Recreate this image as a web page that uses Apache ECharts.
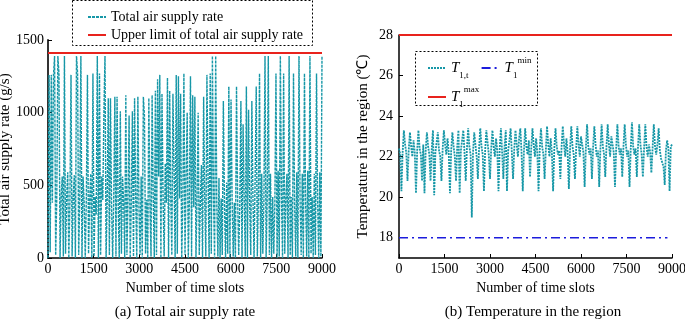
<!DOCTYPE html>
<html>
<head>
<meta charset="utf-8">
<script src="https://cdn.jsdelivr.net/npm/echarts@6/dist/echarts.min.js"></script>
<style>
html, body { margin: 0; padding: 0; background: #fff; }
#main { width: 685px; height: 320px; }
</style>
</head>
<body>
<div id="main"></div>
<script>
// time slot step between samples
var SUPPLY_STEP = 36;
var TEMP_STEP = 40;

// (a) total air supply rate, g/s
var supplyRate = [
    0, 1260, 40, 1260, 380, 1260, 1390, 20, 410, 1390,
    1270, 0, 420, 560, 10, 1390, 30, 410, 590, 0,
    400, 1260, 10, 420, 570, 0, 1390, 1270, 20, 410,
    1390, 0, 560, 380, 0, 420, 1260, 30, 400, 580,
    0, 1270, 10, 420, 300, 1390, 0, 1270, 20, 560,
    400, 1000, 1390, 0, 410, 1100, 20, 1100, 350, 0,
    420, 1110, 10, 1110, 380, 0, 1010, 30, 560, 400,
    0, 1120, 20, 410, 980, 0, 380, 1010, 10, 1100,
    420, 0, 1110, 350, 20, 560, 0, 1110, 980, 30,
    400, 0, 1100, 380, 10, 1120, 420, 0, 1150, 20,
    1230, 560, 1260, 0, 1130, 400, 10, 650, 380, 1240,
    0, 1150, 420, 20, 1130, 600, 0, 1260, 30, 1250,
    410, 1130, 0, 380, 1270, 20, 560, 1000, 0, 400,
    1250, 10, 1120, 350, 1110, 0, 420, 1000, 20, 380,
    640, 0, 1110, 400, 10, 1260, 560, 0, 1270, 30,
    1390, 420, 0, 1390, 380, 10, 550, 0, 410, 20,
    1080, 380, 0, 520, 30, 1180, 0, 1090, 400, 10,
    380, 0, 1180, 420, 20, 360, 1080, 0, 920, 400,
    10, 1180, 0, 1020, 380, 20, 1080, 410, 0, 560,
    1180, 10, 420, 1270, 0, 580, 30, 400, 1390, 0,
    410, 1390, 20, 580, 0, 420, 30, 380, 1270, 0,
    600, 10, 1390, 420, 0, 1270, 30, 410, 580, 0,
    1390, 20, 420, 0, 1270, 380, 10, 590, 0, 1390,
    400, 20, 580, 0, 1270, 410, 10, 600, 0, 1390,
    30, 420, 0, 580, 20, 1270, 400, 0, 590, 10,
    1390
];
var supplyLimit = 1410;

// (b) temperature in region 1, deg C
var temperature = [
    22.4, 22.1, 20.3, 22.2, 23.3, 22.6, 22.2, 20.8, 22.3, 23.2,
    22.5, 22.0, 22.8, 22.2, 20.2, 22.3, 23.3, 22.4, 22.1, 20.8,
    22.6, 20.2, 22.3, 23.2, 22.5, 22.1, 20.8, 22.4, 23.3, 20.1,
    22.2, 22.7, 23.2, 22.3, 22.0, 20.8, 22.4, 23.3, 22.6, 22.1,
    22.9, 22.2, 20.2, 22.3, 23.2, 22.5, 22.0, 20.8, 22.5, 23.3,
    20.2, 22.3, 22.8, 23.3, 22.2, 20.8, 22.4, 23.4, 22.5, 22.1,
    19.0, 22.2, 23.2, 22.6, 22.0, 20.9, 22.4, 23.4, 22.5, 22.1,
    20.3, 22.3, 23.3, 22.7, 22.1, 20.9, 22.4, 23.3, 22.5, 22.0,
    22.9, 22.3, 20.3, 22.4, 23.4, 22.2, 20.9, 22.5, 23.3, 20.3,
    22.3, 22.8, 23.4, 22.2, 20.9, 22.4, 23.3, 22.6, 22.0, 22.9,
    23.4, 22.2, 20.3, 22.3, 23.4, 22.5, 22.1, 22.8, 21.0, 22.4,
    23.4, 22.6, 22.0, 22.9, 22.2, 20.3, 22.4, 23.4, 22.5, 22.1,
    20.9, 22.3, 23.5, 22.6, 22.0, 22.9, 22.2, 20.3, 22.4, 23.4,
    22.5, 22.1, 22.3, 20.9, 22.5, 23.5, 22.6, 22.0, 22.9, 22.2,
    20.4, 22.4, 23.5, 22.5, 22.1, 20.9, 22.4, 23.5, 22.6, 22.0,
    23.0, 22.6, 22.2, 20.5, 22.4, 23.6, 22.5, 22.1, 22.4, 20.9,
    22.5, 23.5, 22.6, 22.0, 22.3, 20.5, 22.4, 23.6, 22.5, 22.1,
    21.0, 22.5, 23.6, 22.6, 22.0, 23.0, 22.6, 22.2, 20.5, 22.4,
    23.6, 22.5, 22.1, 22.4, 21.0, 22.5, 23.6, 22.6, 22.0, 22.3,
    20.5, 22.4, 23.7, 22.5, 22.1, 22.4, 21.0, 22.5, 23.6, 22.6,
    22.1, 21.0, 22.4, 23.6, 22.5, 22.0, 22.6, 22.2, 21.2, 22.4,
    23.6, 22.5, 22.1, 22.6, 23.4, 22.3, 21.9, 21.7, 21.5, 20.6,
    22.3, 22.8, 22.4, 20.3, 22.5, 22.6
];
var tMin = 18;
var tMax = 28;

var xTicks = [0, 1500, 3000, 4500, 6000, 7500, 9000];
var supplyTicks = [0, 500, 1000, 1500];
var tempTicks = [18, 20, 22, 24, 26, 28];

var teal = '#1697a7';
var red = '#e8231d';
var blue = '#1c1cdc';
var font = 'Liberation Serif';

function toPairs(arr, step) {
    return arr.map(function (v, i) { return [i * step, v]; });
}

function plain(v) {
    return String(v);
}

function xAxisOpt(idx) {
    return {
        gridIndex: idx,
        type: 'value',
        min: 0,
        max: 9000,
        name: 'Number of time slots',
        nameLocation: 'middle',
        nameGap: 22,
        nameTextStyle: { fontFamily: font, fontSize: 14, color: '#000' },
        axisLine: { lineStyle: { color: '#000', width: 1.5 } },
        axisTick: { inside: true, length: 4, customValues: xTicks, lineStyle: { color: '#000' } },
        axisLabel: { fontFamily: font, fontSize: 14, color: '#000', margin: 4, customValues: xTicks, formatter: plain },
        splitLine: { show: false }
    };
}

var legendText = { fontFamily: font, fontSize: 14, color: '#000' };
var richT = {
    i: { fontFamily: font, fontStyle: 'italic', fontSize: 15, lineHeight: 24 },
    sb: { fontFamily: font, fontSize: 9, lineHeight: 24, verticalAlign: 'bottom', padding: [8, 0, 0, 0] },
    sp: { fontFamily: font, fontSize: 9, lineHeight: 24, verticalAlign: 'top', padding: [0, 0, 8, 0] }
};
function tLabel(name) {
    if (name === 'T1t') return '{i|T}{sb|1,t}';
    if (name === 'T1min') return '{i|T}{sb|1}{sp|min}';
    return '{i|T}{sb|1}{sp|max}';
}

var myChart = echarts.init(document.getElementById('main'));
var option = {
    animation: false,
    backgroundColor: '#fff',
    title: [{
        text: '(a) Total air supply rate',
        left: 180,
        top: 300,
        textAlign: 'center',
        textStyle: { fontFamily: font, fontSize: 15, fontWeight: 'normal', color: '#000' }
    }, {
        text: '(b) Temperature in the region',
        left: 528,
        top: 300,
        textAlign: 'center',
        textStyle: { fontFamily: font, fontSize: 15, fontWeight: 'normal', color: '#000' }
    }],
    graphic: [{
        type: 'rect',
        shape: { x: 72.5, y: 0.5, width: 240, height: 45 },
        style: { fill: '#fff', stroke: '#000', lineWidth: 1, lineDash: [2, 2] },
        z: 10
    }, {
        type: 'rect',
        shape: { x: 415.5, y: 51.5, width: 122, height: 54 },
        style: { fill: '#fff', stroke: '#000', lineWidth: 1, lineDash: [2, 2] },
        z: 10
    }],
    legend: [{
        data: ['Total air supply rate', 'Upper limit of total air supply rate'],
        orient: 'vertical',
        left: 82,
        top: 5,
        itemGap: 4,
        itemWidth: 18,
        itemHeight: 14,
        z: 20,
        itemStyle: { opacity: 0 },
        textStyle: legendText
    }, {
        data: ['T1t', 'T1min'],
        left: 422,
        top: 51,
        itemGap: 12,
        itemWidth: 18,
        itemHeight: 14,
        z: 20,
        itemStyle: { opacity: 0 },
        formatter: tLabel,
        textStyle: { fontFamily: font, color: '#000', rich: richT }
    }, {
        data: ['T1max'],
        left: 422,
        top: 80,
        itemWidth: 18,
        itemHeight: 14,
        z: 20,
        itemStyle: { opacity: 0 },
        formatter: tLabel,
        textStyle: { fontFamily: font, color: '#000', rich: richT }
    }],
    grid: [
        { left: 48, right: 363, top: 40, bottom: 62, outerBoundsMode: 'none' },
        { left: 399, right: 13, top: 35, bottom: 62, outerBoundsMode: 'none' }
    ],
    xAxis: [xAxisOpt(0), xAxisOpt(1)],
    yAxis: [{
        gridIndex: 0,
        type: 'value',
        min: 0,
        max: 1500,
        name: 'Total air supply rate (g/s)',
        nameLocation: 'middle',
        nameGap: 32,
        nameTextStyle: { fontFamily: font, fontSize: 15, color: '#000' },
        axisLine: { show: true, lineStyle: { color: '#333', width: 2 } },
        axisTick: { show: true, inside: true, length: 4, customValues: supplyTicks, lineStyle: { color: '#000' } },
        axisLabel: { fontFamily: font, fontSize: 14, color: '#000', margin: 4, customValues: supplyTicks, formatter: plain },
        splitLine: { show: false }
    }, {
        gridIndex: 1,
        type: 'value',
        min: 17,
        max: 28,
        name: 'Temperature in the region (\u2103)',
        nameLocation: 'middle',
        nameGap: 28,
        nameTextStyle: { fontFamily: font, fontSize: 15, color: '#000' },
        axisLine: { show: true, lineStyle: { color: '#000', width: 1.5 } },
        axisTick: { show: true, inside: true, length: 4, customValues: tempTicks, lineStyle: { color: '#000' } },
        axisLabel: { fontFamily: font, fontSize: 14, color: '#000', margin: 6, customValues: tempTicks, formatter: plain },
        splitLine: { show: false }
    }],
    series: [{
        name: 'Total air supply rate',
        type: 'line',
        xAxisIndex: 0,
        yAxisIndex: 0,
        symbol: 'none',
        lineStyle: { color: teal, width: 1.4, type: [3, 1] },
        itemStyle: { color: teal },
        data: toPairs(supplyRate, SUPPLY_STEP)
    }, {
        name: 'Upper limit of total air supply rate',
        type: 'line',
        xAxisIndex: 0,
        yAxisIndex: 0,
        symbol: 'none',
        lineStyle: { color: red, width: 2 },
        itemStyle: { color: red },
        data: [[0, supplyLimit], [9000, supplyLimit]]
    }, {
        name: 'T1t',
        type: 'line',
        xAxisIndex: 1,
        yAxisIndex: 1,
        symbol: 'none',
        lineStyle: { color: teal, width: 1.8, type: [2, 1] },
        itemStyle: { color: teal },
        data: toPairs(temperature, TEMP_STEP)
    }, {
        name: 'T1min',
        type: 'line',
        xAxisIndex: 1,
        yAxisIndex: 1,
        symbol: 'none',
        lineStyle: { color: blue, width: 1.5, type: [9, 4, 2, 4] },
        itemStyle: { color: blue },
        data: [[0, tMin], [8850, tMin]]
    }, {
        name: 'T1max',
        type: 'line',
        xAxisIndex: 1,
        yAxisIndex: 1,
        symbol: 'none',
        lineStyle: { color: red, width: 2 },
        itemStyle: { color: red },
        data: [[0, tMax], [9000, tMax]]
    }]
};
myChart.setOption(option);
</script>
</body>
</html>
